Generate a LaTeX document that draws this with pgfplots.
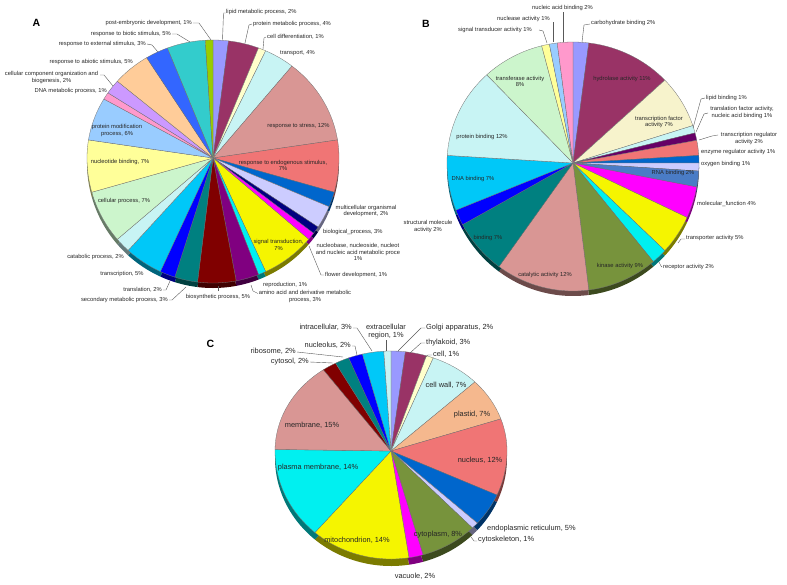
\documentclass[border=0pt]{standalone}
\usepackage{pgfplots}
\usepackage{pgfplotstable}
\pgfplotsset{compat=1.18}
\usepackage{fontspec}
\setmainfont{Liberation Sans}

\definecolor{h9999FF}{HTML}{9999FF}
\definecolor{h993366}{HTML}{993366}
\definecolor{hFFFFCC}{HTML}{FFFFCC}
\definecolor{hCCFFFF}{HTML}{C8F4F4}
\definecolor{hD99694}{HTML}{D99694}
\definecolor{hFF8080}{HTML}{F07575}
\definecolor{h0066CC}{HTML}{0066CC}
\definecolor{hCCCCFF}{HTML}{CCCCFF}
\definecolor{h000080}{HTML}{000080}
\definecolor{hFF00FF}{HTML}{FF00FF}
\definecolor{hFFFF00}{HTML}{F5F500}
\definecolor{h00FFFF}{HTML}{00F0F0}
\definecolor{h800080}{HTML}{800080}
\definecolor{h800000}{HTML}{800000}
\definecolor{h008080}{HTML}{008080}
\definecolor{h0000FF}{HTML}{0000FF}
\definecolor{h00CCFF}{HTML}{00C8F8}
\definecolor{hCCFFCC}{HTML}{CCF5CC}
\definecolor{hFFFF99}{HTML}{FFFF99}
\definecolor{h99CCFF}{HTML}{99CCFF}
\definecolor{hFF99CC}{HTML}{FF99CC}
\definecolor{hCC99FF}{HTML}{CC99FF}
\definecolor{hFFCC99}{HTML}{FFCC99}
\definecolor{h3366FF}{HTML}{3366FF}
\definecolor{h33CCCC}{HTML}{33CCCC}
\definecolor{h99CC00}{HTML}{99CC00}
\definecolor{h660066}{HTML}{660066}
\definecolor{h4F81BD}{HTML}{4A7CC6}
\definecolor{h77933C}{HTML}{77933C}
\definecolor{hFAC090}{HTML}{F5B88E}
\definecolor{hF5F0C8}{HTML}{F7F3CC}

% Pie A: biological process
\pgfplotstableread[col sep=comma]{
v,c
2,h9999FF
4,h993366
1,hFFFFCC
4,hCCFFFF
12,hD99694
7,hFF8080
2,h0066CC
3,hCCCCFF
1,h000080
1,hFF00FF
7,hFFFF00
1,h00FFFF
3,h800080
5,h800000
3,h008080
2,h0000FF
5,h00CCFF
2,hCCFFFF
7,hCCFFCC
7,hFFFF99
6,h99CCFF
1,hFF99CC
2,hCC99FF
5,hFFCC99
3,h3366FF
5,h33CCCC
1,h99CC00
}\pieA

% Pie B: molecular function
\pgfplotstableread[col sep=comma]{
v,c
2,h9999FF
11,h993366
7,hF5F0C8
1,hCCFFFF
1,h660066
2,hFF8080
1,h0066CC
1,hCCCCFF
2,h4F81BD
4,hFF00FF
5,hFFFF00
2,h00FFFF
9,h77933C
12,hD99694
7,h008080
2,h0000FF
7,h00CCFF
12,hCCFFFF
8,hCCFFCC
1,hFFFF99
1,h99CCFF
2,hFF99CC
}\pieB

% Pie C: cellular component
\pgfplotstableread[col sep=comma]{
v,c
2,h9999FF
3,h993366
1,hFFFFCC
7,hCCFFFF
7,hFAC090
12,hFF8080
5,h0066CC
1,hCCCCFF
8,h77933C
2,hFF00FF
14,hFFFF00
14,h00FFFF
15,hD99694
2,h800000
2,h008080
2,h0000FF
3,h00CCFF
1,hCCFFFF
}\pieC

\newcommand\pieslices[8]{%
  \pgfmathsetmacro\pcy{#3}%
  \def\cum{0}%
  \pgfplotsforeachungrouped \i in {0,...,\lastrow}{%
    \pgfplotstablegetelem{\i}{v}\of{#1}\let\vv\pgfplotsretval
    \pgfplotstablegetelem{\i}{c}\of{#1}\let\cc\pgfplotsretval
    \pgfmathsetmacro\angA{\cum/\tot*360}%
    \pgfmathsetmacro\cum{\cum+\vv}%
    \pgfmathsetmacro\angB{\cum/\tot*360}%
    \edef\tmp{\noexpand\fill[fill=\cc#7,#8] (axis cs:#2,\pcy) -- plot[domain=\angA:\angB,samples=36,variable=\noexpand\myt] (axis cs:{#2+#4*sin(\noexpand\myt)},{\pcy-(cos(\noexpand\myt)>0?#5:#6)*cos(\noexpand\myt)}) -- cycle;}%
    \tmp
  }%
}
\newcommand\drawpie[7]{%
  \pgfplotstablegetrowsof{#1}%
  \pgfmathtruncatemacro\lastrow{\pgfplotsretval-1}%
  \def\tot{0}%
  \pgfplotsforeachungrouped \i in {0,...,\lastrow}{%
    \pgfplotstablegetelem{\i}{v}\of{#1}%
    \pgfmathsetmacro\tot{\tot+\pgfplotsretval}%
  }%
  \pieslices{#1}{#2}{#3+#7}{#4}{#5}{#6}{!50!black}{draw=none}%
  \pieslices{#1}{#2}{#3}{#4}{#5}{#6}{}{draw=black!55,line width=0.3pt}%
}

\newcommand\la{\fontsize{5.8}{6.6}\selectfont}
\newcommand\lc{\fontsize{7.4}{8}\selectfont}
\tikzset{
  lab/.style={font=\la,text=black!85,inner sep=0pt,align=center},
  labc/.style={font=\lc,text=black!85,inner sep=0pt,align=center},
  ld/.style={draw=black!65,line width=0.4pt},
  pan/.style={font=\fontsize{10.5}{10.5}\selectfont\bfseries,inner sep=0pt}
}

\begin{document}
\begin{tikzpicture}
\begin{axis}[at={(0,0)},anchor=south west,width=787pt,height=584pt,scale only axis,
  xmin=0,xmax=787,ymin=0,ymax=584,y dir=reverse,hide axis,clip=false]

\drawpie{\pieA}{213}{158}{126}{118}{125}{5}
\drawpie{\pieB}{573}{163}{126}{121}{128}{5}
\drawpie{\pieC}{391}{451}{116}{100}{108}{7}

% panel letters
\node[pan] at (axis cs:36.5,23) {A};
\node[pan] at (axis cs:426,24) {B};
\node[pan] at (axis cs:210.5,344) {C};

% ---- Pie A labels ----
\node[lab,anchor=east] at (axis cs:192,23) {post-embryonic development, 1\%};
\node[lab,anchor=east] at (axis cs:171,34) {response to biotic stimulus, 5\%};
\node[lab,anchor=east] at (axis cs:146,44) {response to external stimulus, 3\%};
\node[lab,anchor=east] at (axis cs:133,62) {response to abiotic stimulus, 5\%};
\node[lab] at (axis cs:51.5,77.5) {cellular component organization and\\biogenesis, 2\%};
\node[lab,anchor=east] at (axis cs:107,91) {DNA metabolic process, 1\%};
\node[lab] at (axis cs:117,130.3) {protein modification\\process, 6\%};
\node[lab] at (axis cs:120,162) {nucleotide binding, 7\%};
\node[lab] at (axis cs:124,201) {cellular process, 7\%};
\node[lab] at (axis cs:95.5,257) {catabolic process, 2\%};
\node[lab] at (axis cs:122,274) {transcription, 5\%};
\node[lab,anchor=east] at (axis cs:162,290) {translation, 2\%};
\node[lab,anchor=east] at (axis cs:168,299.5) {secondary metabolic process, 3\%};
\node[lab] at (axis cs:218,297) {biosynthetic process, 5\%};
\node[lab,anchor=west] at (axis cs:263,285.3) {reproduction, 1\%};
\node[lab] at (axis cs:305,296.7) {amino acid and derivative metabolic\\process, 3\%};
\node[lab,anchor=west] at (axis cs:325,274.5) {flower development, 1\%};
\node[lab] at (axis cs:358,252) {nucleobase, nucleoside, nucleot\\and nucleic acid metabolic proce\\1\%};
\node[lab,anchor=west] at (axis cs:323,231.7) {biological\_process, 3\%};
\node[lab] at (axis cs:366,211) {multicellular organismal\\development, 2\%};
\node[lab] at (axis cs:278.5,244.7) {signal transduction,\\7\%};
\node[lab] at (axis cs:283,165.3) {response to endogenous stimulus,\\7\%};
\node[lab] at (axis cs:298.5,125.7) {response to stress, 12\%};
\node[lab,anchor=west] at (axis cs:280,53.3) {transport, 4\%};
\node[lab,anchor=west] at (axis cs:267,36.7) {cell differentiation, 1\%};
\node[lab,anchor=west] at (axis cs:253,24) {protein metabolic process, 4\%};
\node[lab,anchor=west] at (axis cs:226,12.3) {lipid metabolic process, 2\%};

\draw[ld] (axis cs:193,23) -- (axis cs:199,23) -- (axis cs:211,40);
\draw[ld] (axis cs:172,34) -- (axis cs:177,34) -- (axis cs:190,42);
\draw[ld] (axis cs:147,44) -- (axis cs:152,45) -- (axis cs:158,52);
\draw[ld] (axis cs:100,75) -- (axis cs:104,75) -- (axis cs:113,86);
\draw[ld] (axis cs:225.5,13) -- (axis cs:223.5,13) -- (axis cs:222.5,40);
\draw[ld] (axis cs:252,24) -- (axis cs:249,25) -- (axis cs:245,43);
\draw[ld] (axis cs:266,37) -- (axis cs:264,38) -- (axis cs:263,49);
\draw[ld] (axis cs:163,290) -- (axis cs:166,290) -- (axis cs:170,281);
\draw[ld] (axis cs:169,300) -- (axis cs:172,300) -- (axis cs:186,287);
\draw[ld] (axis cs:218,291) -- (axis cs:218,286);
\draw[ld] (axis cs:258,293.5) -- (axis cs:253,291) -- (axis cs:251,285);
\draw[ld] (axis cs:324,275) -- (axis cs:321,275) -- (axis cs:309,246);

% ---- Pie B labels ----
\node[lab,anchor=west] at (axis cs:532,8.3) {nucleic acid binding 2\%};
\node[lab,anchor=west] at (axis cs:497,19) {nuclease activity 1\%};
\node[lab,anchor=west] at (axis cs:458,30) {signal transducer activity 1\%};
\node[lab,anchor=west] at (axis cs:591,23.3) {carbohydrate binding 2\%};
\node[lab] at (axis cs:622,79) {hydrolase activity 11\%};
\node[lab] at (axis cs:659,122) {transcription factor\\activity 7\%};
\node[lab,anchor=west] at (axis cs:706,97.7) {lipid binding 1\%};
\node[lab] at (axis cs:742,112.7) {translation factor activity,\\nucleic acid binding 1\%};
\node[lab] at (axis cs:749,138.4) {transcription regulator\\activity 2\%};
\node[lab,anchor=west] at (axis cs:701,151.7) {enzyme regulator activity 1\%};
\node[lab,anchor=west] at (axis cs:701,163.7) {oxygen binding 1\%};
\node[lab] at (axis cs:673,173.3) {RNA binding 2\%};
\node[lab,anchor=west] at (axis cs:697,204.3) {molecular\_function 4\%};
\node[lab,anchor=west] at (axis cs:686,238.3) {transporter activity 5\%};
\node[lab,anchor=west] at (axis cs:663,266.7) {receptor activity 2\%};
\node[lab] at (axis cs:620,265.7) {kinase activity 9\%};
\node[lab] at (axis cs:545,275) {catalytic activity 12\%};
\node[lab] at (axis cs:488,238.3) {binding 7\%};
\node[lab] at (axis cs:428,226.7) {structural molecule\\activity 2\%};
\node[lab] at (axis cs:473,179.3) {DNA binding 7\%};
\node[lab] at (axis cs:482,136.7) {protein binding 12\%};
\node[lab] at (axis cs:520,81.3) {transferase activity\\8\%};

\draw[ld] (axis cs:563,12) -- (axis cs:563,42);
\draw[ld] (axis cs:553,22) -- (axis cs:553,42);
\draw[ld] (axis cs:539,30) -- (axis cs:543,31) -- (axis cs:547,43);
\draw[ld] (axis cs:590,24) -- (axis cs:584,25) -- (axis cs:582,42);
\draw[ld] (axis cs:705,98) -- (axis cs:701,99) -- (axis cs:693,128);
\draw[ld] (axis cs:708,113) -- (axis cs:704,114) -- (axis cs:696,132);
\draw[ld] (axis cs:718,135) -- (axis cs:712,136) -- (axis cs:699,140);
\draw[ld] (axis cs:685,239) -- (axis cs:681,239) -- (axis cs:678,243);
\draw[ld] (axis cs:662,267) -- (axis cs:661,266) -- (axis cs:659,262);

% ---- Pie C labels ----
\node[labc,anchor=east] at (axis cs:352,327.3) {intracellular, 3\%};
\node[labc] at (axis cs:386,331.7) {extracellular\\region, 1\%};
\node[labc,anchor=east] at (axis cs:351,345.7) {nucleolus, 2\%};
\node[labc,anchor=east] at (axis cs:296,351) {ribosome, 2\%};
\node[labc,anchor=east] at (axis cs:309,361.7) {cytosol, 2\%};
\node[labc,anchor=west] at (axis cs:426,327.7) {Golgi apparatus, 2\%};
\node[labc,anchor=west] at (axis cs:426,342.3) {thylakoid, 3\%};
\node[labc,anchor=west] at (axis cs:433,354.5) {cell, 1\%};
\node[labc] at (axis cs:446,385) {cell wall, 7\%};
\node[labc] at (axis cs:472,415) {plastid, 7\%};
\node[labc] at (axis cs:312,425.7) {membrane, 15\%};
\node[labc] at (axis cs:480,460) {nucleus, 12\%};
\node[labc] at (axis cs:318,467.7) {plasma membrane, 14\%};
\node[labc] at (axis cs:357,540.7) {mitochondrion, 14\%};
\node[labc] at (axis cs:438,535) {cytoplasm, 8\%};
\node[labc] at (axis cs:415,576) {vacuole, 2\%};
\node[labc,anchor=west] at (axis cs:487,528.3) {endoplasmic reticulum, 5\%};
\node[labc,anchor=west] at (axis cs:478,540) {cytoskeleton, 1\%};

\draw[ld] (axis cs:353,328) -- (axis cs:357,328) -- (axis cs:372,351);
\draw[ld] (axis cs:386,340) -- (axis cs:386,351);
\draw[ld] (axis cs:352,346) -- (axis cs:355,346) -- (axis cs:357,355);
\draw[ld] (axis cs:297,352) -- (axis cs:343,357);
\draw[ld] (axis cs:310,362) -- (axis cs:333,363);
\draw[ld] (axis cs:425,328) -- (axis cs:421,328) -- (axis cs:398,351);
\draw[ld] (axis cs:425,343) -- (axis cs:421,343) -- (axis cs:410,353);
\draw[ld] (axis cs:432,355) -- (axis cs:428,355) -- (axis cs:423,359);
\draw[ld] (axis cs:477,541) -- (axis cs:474,541) -- (axis cs:471,537);
\end{axis}
\pgfresetboundingbox
\path[use as bounding box] (0,0) rectangle (787pt,584pt);
\end{tikzpicture}
\end{document}
